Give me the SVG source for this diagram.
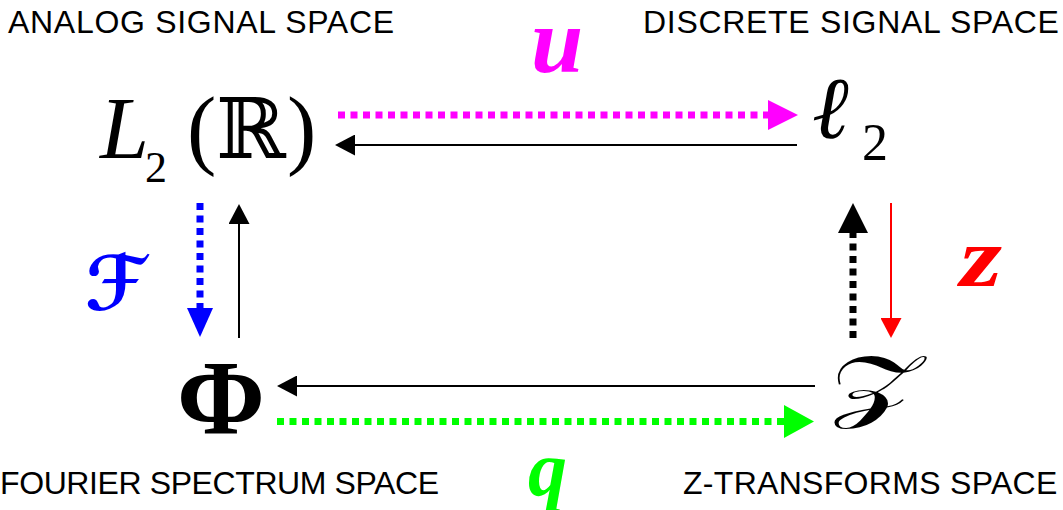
<svg xmlns="http://www.w3.org/2000/svg" width="1063" height="510" viewBox="0 0 1063 510">
<style>
.lbl{font-family:"Liberation Sans",Arial,sans-serif;font-size:32px;fill:#000}
.top{letter-spacing:0.7px}
.math{font-family:"Liberation Serif","Times New Roman",serif;fill:#000}
.bi{font-family:"Liberation Serif","Times New Roman",serif;font-weight:bold;font-style:italic}
.solid{stroke-width:2;fill:none}
.dot{stroke-width:7;stroke-dasharray:7 5.5;fill:none}
</style>
<defs>
<marker id="mBig" markerUnits="userSpaceOnUse" viewBox="0 0 30 30" refX="0" refY="15" markerWidth="30" markerHeight="30" orient="auto"><path d="M0,0 L30,15 L0,30 Z" fill="#000"/></marker>
<marker id="mMag" markerUnits="userSpaceOnUse" viewBox="0 0 30 30" refX="0" refY="15" markerWidth="30" markerHeight="30" orient="auto"><path d="M0,0 L30,15 L0,30 Z" fill="#FF00FF"/></marker>
<marker id="mBlue" markerUnits="userSpaceOnUse" viewBox="0 0 29 26" refX="0" refY="13" markerWidth="29" markerHeight="26" orient="auto"><path d="M0,0 L29,13 L0,26 Z" fill="#0000FF"/></marker>
<marker id="mGreen" markerUnits="userSpaceOnUse" viewBox="0 0 30 33" refX="0" refY="16.5" markerWidth="30" markerHeight="33" orient="auto"><path d="M0,0 L30,16.5 L0,33 Z" fill="#00FF00"/></marker>
<marker id="mBlk" markerUnits="userSpaceOnUse" viewBox="0 0 20 21" refX="0" refY="10.5" markerWidth="20" markerHeight="21" orient="auto"><path d="M0,0 L20,10.5 L0,21 Z" fill="#000"/></marker>
<marker id="mRed" markerUnits="userSpaceOnUse" viewBox="0 0 20 21" refX="0" refY="10.5" markerWidth="20" markerHeight="21" orient="auto"><path d="M0,0 L20,10.5 L0,21 Z" fill="#FF0000"/></marker>
</defs>

<g id="labels">
<text class="lbl top" x="8" y="33">ANALOG SIGNAL SPACE</text>
<text class="lbl top" x="643" y="33">DISCRETE SIGNAL SPACE</text>
<text class="lbl" x="0" y="494" letter-spacing="-0.4">FOURIER SPECTRUM SPACE</text>
<text class="lbl" x="683" y="494" letter-spacing="0.3">Z-TRANSFORMS SPACE</text>
</g>

<g id="node-L2">
<text class="math" x="100" y="158" font-size="88" font-style="italic">L</text>
<text class="math" x="145" y="182" font-size="44">2</text>
<text class="math" x="187" y="158" font-size="88">(</text>
<text x="216" y="158" font-size="84" font-family="DejaVu Serif,serif">ℝ</text>
<text class="math" x="287" y="158" font-size="88">)</text>
</g>

<g id="node-l2">
<text class="math" x="812" y="138" font-size="88" font-style="italic">ℓ</text>
<text class="math" x="862" y="160" font-size="52">2</text>
</g>

<g id="node-Phi">
<text class="math" x="177" y="433" font-size="106" font-weight="bold">Φ</text>
</g>

<g id="node-Z">
<text x="0" y="412" font-size="80" font-family="DejaVu Serif,DejaVu Sans,serif" transform="translate(830,0) scale(1.5,1)">𝒵</text>
</g>

<g id="connectors">
<line class="dot" x1="338" y1="115" x2="768" y2="115" stroke="#FF00FF" marker-end="url(#mMag)"/>
<line class="solid" x1="797" y1="145" x2="355" y2="145" stroke="#000" marker-end="url(#mBlk)"/>
<line class="dot" x1="200" y1="203" x2="200" y2="308" stroke="#0000FF" marker-end="url(#mBlue)"/>
<line class="solid" x1="239" y1="338" x2="239" y2="224" stroke="#000" marker-end="url(#mBlk)"/>
<line class="dot" x1="853" y1="338" x2="853" y2="233" stroke="#000" marker-end="url(#mBig)"/>
<line class="solid" x1="891" y1="203" x2="891" y2="318" stroke="#FF0000" marker-end="url(#mRed)"/>
<line class="solid" x1="815" y1="386" x2="297" y2="386" stroke="#000" marker-end="url(#mBlk)"/>
<line class="dot" x1="277" y1="421.5" x2="784" y2="421.5" stroke="#00FF00" marker-end="url(#mGreen)"/>
</g>

<g id="edge-labels">
<text class="bi" x="531" y="72" font-size="94" fill="#FF00FF">u</text>
<text x="85" y="310" font-size="75" font-weight="bold" font-family="DejaVu Serif,DejaVu Sans,serif" fill="#0000FF">ℱ</text>
<text class="bi" x="960" y="286" font-size="85" fill="#FF0000" textLength="42" lengthAdjust="spacingAndGlyphs">z</text>
<text class="bi" x="528" y="495" font-size="78" fill="#00FF00">q</text>
</g>
</svg>
